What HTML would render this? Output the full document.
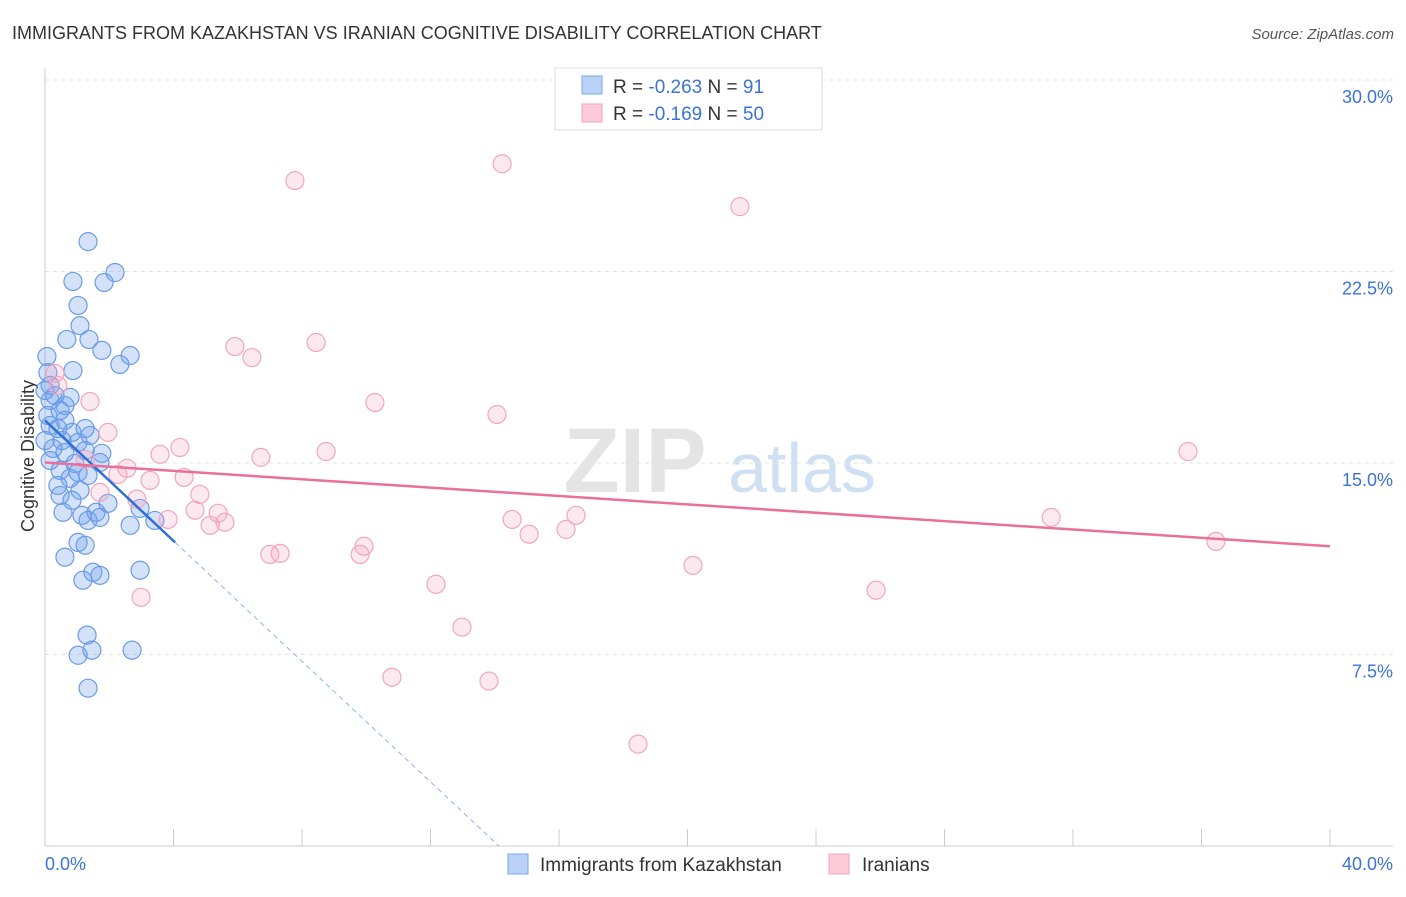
<!DOCTYPE html>
<html><head><meta charset="utf-8"><style>
body{margin:0;background:#fff;font-family:"Liberation Sans",sans-serif}
svg text{font-family:"Liberation Sans",sans-serif}
</style></head><body>
<svg id="chart" width="1406" height="892">
<text x="12" y="39" font-size="18" fill="#333">IMMIGRANTS FROM KAZAKHSTAN VS IRANIAN COGNITIVE DISABILITY CORRELATION CHART</text>
<text x="1394" y="39" font-size="15" fill="#555" text-anchor="end" font-style="italic">Source: ZipAtlas.com</text>
<text x="34" y="456" font-size="18" fill="#333" text-anchor="middle" transform="rotate(-90 34 456)">Cognitive Disability</text>
<g><text x="635" y="492" font-size="92" fill="#e4e4e4" text-anchor="middle" font-family="Liberation Serif" font-weight="bold">ZIP</text><text x="802" y="492" font-size="70" fill="#cfe0f3" text-anchor="middle">atlas</text></g>
<g id="grid"></g><g id="axes"></g><g id="pts"></g><g id="trends"></g>
<g>
<rect x="555" y="68" width="267" height="62" fill="#fff" stroke="#ddd"/>
<rect x="582" y="76" width="20" height="18" fill="#b9d2f5" stroke="#7aa6e8"/>
<rect x="582" y="104" width="20" height="18" fill="#fbcbd9" stroke="#f2a3bd"/>
<text x="613" y="93" font-size="19" fill="#333">R = <tspan fill="#3b73d6">-0.263</tspan>   N =  <tspan fill="#3b73d6">91</tspan></text>
<text x="613" y="120" font-size="19" fill="#333">R =  <tspan fill="#3b73d6">-0.169</tspan>   N = <tspan fill="#3b73d6">50</tspan></text>
</g>
<g>
<rect x="508" y="854" width="20" height="20" fill="#b9d2f5" stroke="#7aa6e8"/>
<text x="540" y="871" font-size="19" fill="#333">Immigrants from Kazakhstan</text>
<rect x="829" y="854" width="20" height="20" fill="#fbcbd9" stroke="#f2a3bd"/>
<text x="862" y="871" font-size="19" fill="#333">Iranians</text>
</g>
</svg>
<script>
const blueX=[1.34,2.18,0.87,1.84,1.03,1.09,0.68,1.37,0.06,1.77,2.65,2.33,0.87,0.09,0.16,0.0,0.31,0.78,0.16,0.62,0.47,0.09,0.62,0.16,0.40,0.84,1.25,0.0,0.53,1.03,1.40,0.25,0.62,1.25,1.77,0.16,0.93,1.71,0.47,1.03,1.34,0.78,0.40,1.09,0.47,0.84,1.96,2.96,0.56,1.15,1.59,1.34,1.71,3.42,2.65,1.03,1.25,0.62,2.96,1.49,1.71,1.18,1.31,1.03,1.46,2.71,1.34];
const blueY=[23.67,22.46,22.11,22.07,21.17,20.38,19.84,19.84,19.17,19.41,19.21,18.86,18.62,18.54,18.04,17.84,17.64,17.57,17.45,17.25,17.06,16.86,16.67,16.47,16.35,16.20,16.35,15.88,15.88,15.81,16.08,15.57,15.41,15.49,15.38,15.10,14.98,15.02,14.71,14.63,14.51,14.40,14.12,13.93,13.73,13.54,13.42,13.22,13.07,12.95,13.07,12.75,12.87,12.75,12.56,11.89,11.78,11.31,10.80,10.72,10.60,10.41,8.26,7.47,7.67,7.67,6.18];
const pinkX=[14.23,7.78,21.63,5.91,6.44,8.44,0.31,0.40,10.27,1.40,14.07,1.96,4.20,3.58,8.75,6.72,35.58,1.25,2.55,2.27,3.27,4.33,4.82,1.71,2.86,4.67,5.39,5.14,5.60,3.83,14.54,16.53,31.32,15.07,16.22,9.93,7.00,7.32,9.81,36.45,20.17,2.99,12.17,25.87,12.98,10.80,13.82,18.46];
const pinkY=[26.72,26.06,25.04,19.56,19.13,19.72,18.51,18.04,17.37,17.41,16.90,16.20,15.61,15.34,15.45,15.22,15.45,15.14,14.79,14.55,14.32,14.44,13.77,13.85,13.58,13.15,13.03,12.56,12.68,12.79,12.79,12.95,12.87,12.21,12.40,11.74,11.42,11.46,11.42,11.93,10.99,9.74,10.25,10.02,8.57,6.61,6.46,3.99];
const yTicks=[7.5,15,22.5,30];
const yTickLabels=["7.5%","15.0%","22.5%","30.0%"];
const xTicks=[0,4,8,12,16,20,24,28,32,36,40];
const blueTrend=[16.67,-1.18];
const blueSolidEnd=4.05;
const pinkTrend=[15.02,-0.082];
const X0=45,X1=1330,Y0=846,Y1=80;
const sx=v=>X0+v/40*(X1-X0), sy=v=>Y0-v/30*(Y0-Y1);
const NS="http://www.w3.org/2000/svg";
function mk(p,tag,a){const e=document.createElementNS(NS,tag);for(const k in a)e.setAttribute(k,a[k]);p.appendChild(e);return e;}
const grid=document.getElementById('grid'),axes=document.getElementById('axes'),pts=document.getElementById('pts'),tr=document.getElementById('trends');
yTicks.forEach((t,i)=>{
 const l=mk(grid,'line',{x1:X0,x2:1393,y1:sy(t),y2:sy(t),stroke:'#e3e3e3','stroke-dasharray':'4 4'});
 
 
 const tx=mk(axes,'text',{x:1393,y:sy(t)+23,'font-size':18,fill:'#3b73d6','text-anchor':'end'});
 tx.textContent=yTickLabels[i];
 
 
});
const ax=mk(axes,'line',{x1:X0,x2:X0,y1:68,y2:Y0,stroke:'#ccc'});


const bx=mk(axes,'line',{x1:X0,x2:1393,y1:Y0,y2:Y0,stroke:'#ccc'});


xTicks.forEach(t=>{
 const l=mk(axes,'line',{x1:sx(t),x2:sx(t),y1:Y0-17,y2:Y0,stroke:'#ccc'});
 
 
});
const xl0=mk(axes,'text',{x:45,y:870,'font-size':18,fill:'#3b73d6'});xl0.textContent='0.0%';


const xl1=mk(axes,'text',{x:1393,y:870,'font-size':18,fill:'#3b73d6','text-anchor':'end'});xl1.textContent='40.0%';


blueX.forEach((x,i)=>{
 const c=mk(pts,'circle',{cx:sx(x),cy:sy(blueY[i]),r:9,fill:'rgba(110,160,235,0.3)',stroke:'#6b9be6','stroke-width':1.2});
 
 
});
pinkX.forEach((x,i)=>{
 const c=mk(pts,'circle',{cx:sx(x),cy:sy(pinkY[i]),r:9,fill:'rgba(245,165,190,0.25)',stroke:'#f2a5bf','stroke-width':1.2});
 
 
});
const bt=x=>blueTrend[0]+blueTrend[1]*x;
const xz=-blueTrend[0]/blueTrend[1];
const l1=mk(tr,'line',{x1:sx(0),y1:sy(bt(0)),x2:sx(blueSolidEnd),y2:sy(bt(blueSolidEnd)),stroke:'#2e6fd8','stroke-width':2.5});


const l2=mk(tr,'line',{x1:sx(blueSolidEnd),y1:sy(bt(blueSolidEnd)),x2:sx(xz),y2:sy(0),stroke:'#8fb3ea','stroke-width':1,'stroke-dasharray':'5 4'});


const pt=x=>pinkTrend[0]+pinkTrend[1]*x;
const l3=mk(tr,'line',{x1:sx(0),y1:sy(pt(0)),x2:sx(40),y2:sy(pt(40)),stroke:'#e8709a','stroke-width':2.5});


</script>
</body></html>
